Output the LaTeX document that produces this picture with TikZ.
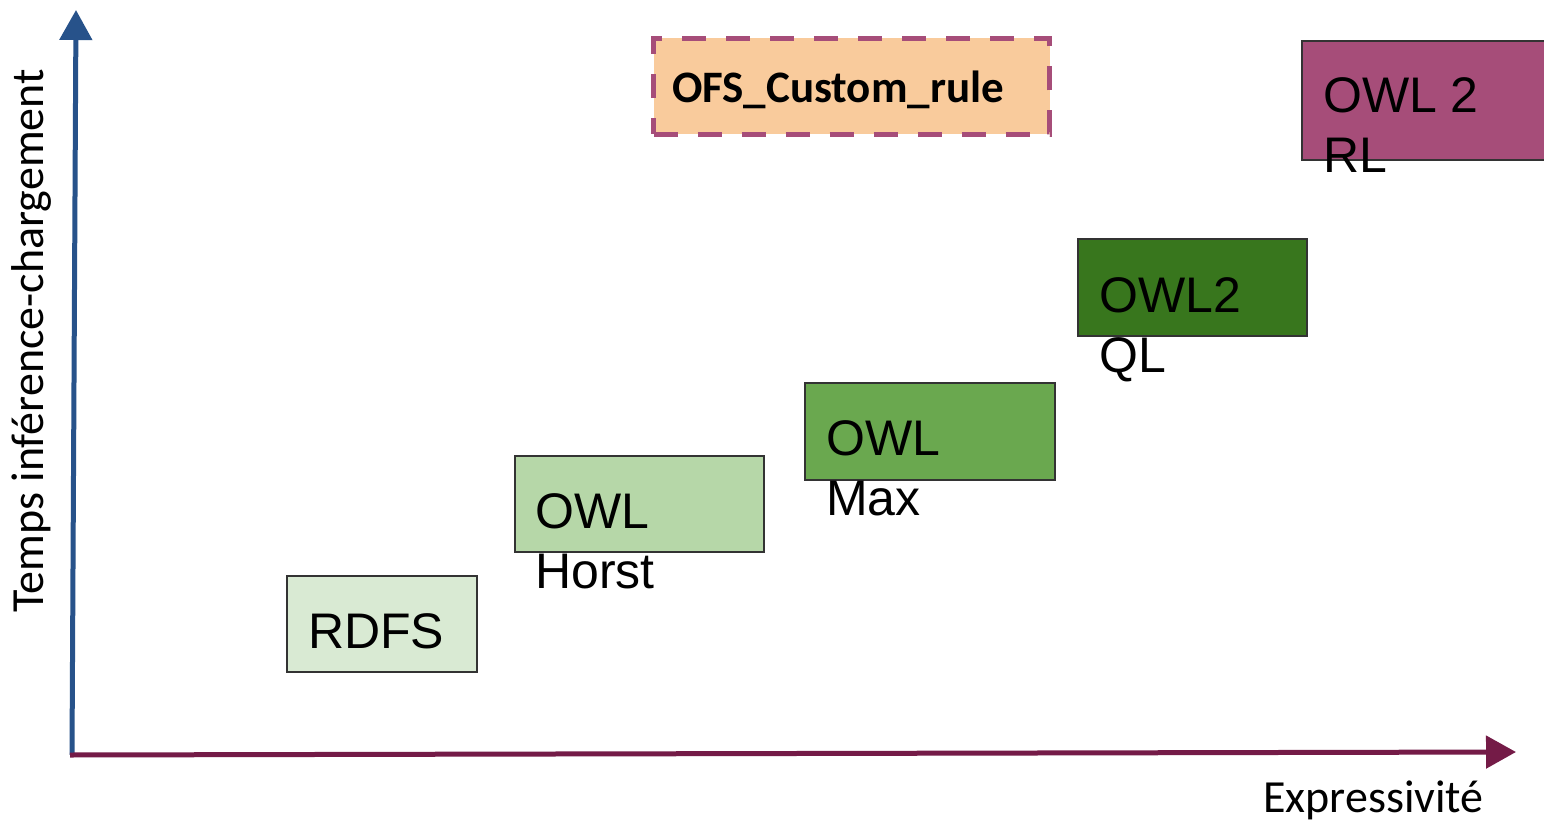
\documentclass[tikz,border=0pt]{standalone}
\usepackage{fontspec}
\setmainfont{Liberation Sans}
\newfontfamily\calib{Carlito}
\usetikzlibrary{arrows.meta,calc}

\definecolor{axisblue}{HTML}{27528A}
\definecolor{axisplum}{HTML}{741B47}
\definecolor{lvlA}{HTML}{D9EAD3}
\definecolor{lvlB}{HTML}{B6D7A8}
\definecolor{lvlC}{HTML}{6AA84F}
\definecolor{lvlD}{HTML}{38761D}
\definecolor{lvlE}{HTML}{A64D79}
\definecolor{peach}{HTML}{F9CB9C}

\tikzset{
  lang/.style={draw=black!80, line width=1.8pt, rectangle, inner sep=0pt, anchor=north west},
  % multi-line labels: the base anchor sits on the last line's baseline
  langtxt/.style={font=\fontsize{50}{60}\selectfont, text=black, align=left, inner sep=0pt, anchor=base west},
  axislabel/.style={font=\calib\fontsize{46}{55}\selectfont, inner sep=0pt},
  axisline/.style={line width=5pt, -{Triangle[length=30pt,width=32pt]}},
  custombox/.style={rectangle, fill=peach, draw=lvlE, line width=5pt, dash pattern=on 24pt off 20pt, inner sep=0pt, anchor=north west}
}

\begin{document}
\begin{tikzpicture}[x=1pt,y=-1pt]
  \clip (0,0) rectangle (1544,821);
  \fill[white] (0,0) rectangle (1544,821);

  % axes
  \coordinate (origin) at (72,755);
  \coordinate (ytip) at (76,10);
  \coordinate (xtip) at (1516,752);
  \draw[axisline, draw=axisblue, fill=axisblue] (origin) -- (ytip);
  \draw[axisline, draw=axisplum, fill=axisplum] ([xshift=-2pt]origin) -- (xtip);

  \node[axislabel, rotate=90, anchor=base] (ylab) at (43,341) {Temps inférence-chargement};
  \node[axislabel, anchor=base west] (xlab) at (1263,812) {Expressivité};

  % language levels
  \node[lang, fill=lvlA, minimum width=190pt, minimum height=96pt] (rdfs) at (286,575) {};
  \node[langtxt] (rdfs-t) at ($(rdfs.north west)+(22,73)$) {RDFS};

  \node[lang, fill=lvlB, minimum width=249pt, minimum height=96pt] (horst) at (514,455) {};
  \node[langtxt] (horst-t) at ($(horst.north west)+(21,133)$) {OWL\\Horst};

  \node[lang, fill=lvlC, minimum width=250pt, minimum height=97pt] (max) at (804,382) {};
  \node[langtxt] (max-t) at ($(max.north west)+(22,133)$) {OWL\\Max};

  \node[lang, fill=lvlD, minimum width=229pt, minimum height=97pt] (ql) at (1077,238) {};
  \node[langtxt] (ql-t) at ($(ql.north west)+(22,134)$) {OWL2\\QL};

  \node[lang, fill=lvlE, minimum width=280pt, minimum height=119pt] (rl) at (1301,40) {};
  \node[langtxt] (rl-t) at ($(rl.north west)+(22,133)$) {OWL 2\\RL};

  % custom rule set
  \node[custombox, minimum width=396pt, minimum height=96pt] (ofs) at (651,36) {};
  \node[font=\calib\bfseries\fontsize{45}{54}\selectfont, inner sep=0pt, anchor=base west] (ofs-t) at (672,103) {OFS\_Custom\_rule};
\end{tikzpicture}
\end{document}
